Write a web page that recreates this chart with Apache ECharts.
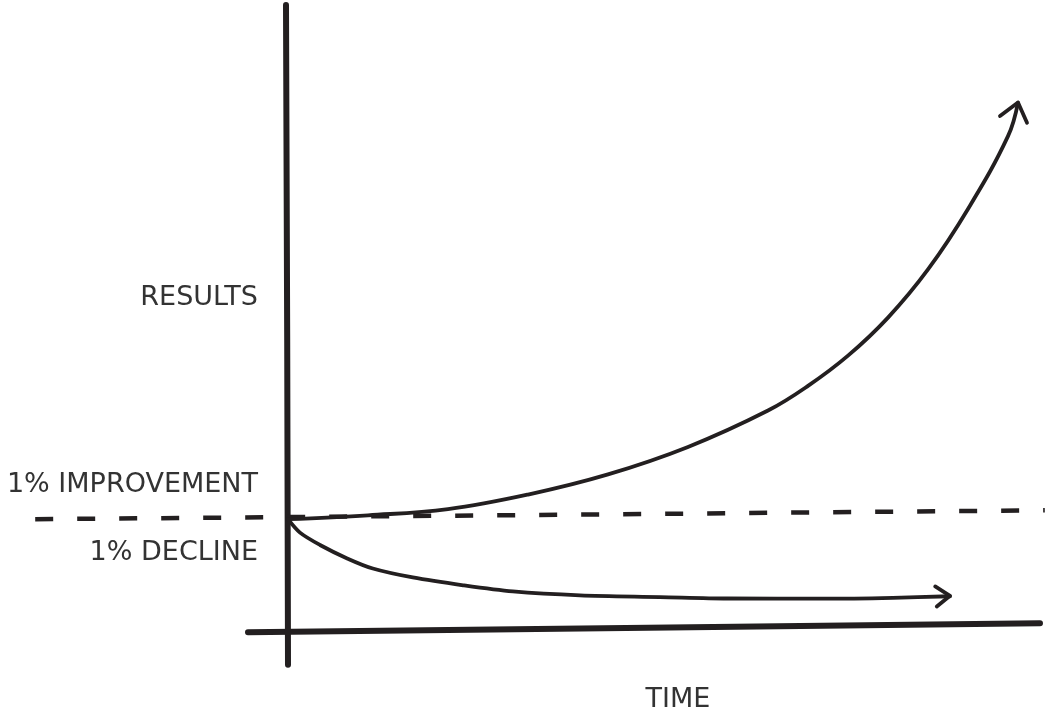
<!DOCTYPE html>
<html>
<head>
<meta charset="utf-8">
<script src="https://cdn.jsdelivr.net/npm/echarts@6/dist/echarts.min.js"></script>
<style>
html,body{margin:0;padding:0;background:#fff;}
#chart{width:1052px;height:716px;}
</style>
</head>
<body>
<div id="chart"></div>
<script>
// [time, results] pairs
const improvementCurve = [
  [0,1.0],[1,1.035],[2,1.09],[3,1.22],[4,1.40],[5,1.645],[6,1.97],
  [6.5,2.19],[7,2.46],[7.5,2.80],[8,3.23],[8.5,3.77],[9,4.42],[9.125,4.72]
];
const declineCurve = [
  [0,1.0],[0.15,0.88],[0.4,0.77],[0.74,0.65],[1.06,0.56],[1.56,0.48],[2.19,0.41],
  [2.81,0.355],[3.65,0.32],[4.65,0.305],[5.49,0.292],[6.74,0.29],[7.56,0.298],[8.275,0.312]
];
const improvementArrow = [[8.9,4.6],[9.125,4.72],[9.2375,4.54]];
const declineArrow = [[8.09,0.40],[8.275,0.316],[8.11,0.22]];
const baselineDashed = [[-3.16,1.0],[3.5,1.04],[9.46,1.08]];
const timeAxisLine = [[-0.5,-0.01],[4.5,0.03],[9.4,0.07]];
const resultsAxisLine = [[0,-0.30],[-0.01,2.6],[-0.025,5.59]];
const labelTexts = ['RESULTS','1% IMPROVEMENT','1% DECLINE','TIME'];

const ink = '#231f20';
const chart = echarts.init(document.getElementById('chart'));

function lineSeries(data, width, smooth, extra) {
  return Object.assign({
    type: 'line',
    data: data,
    smooth: smooth,
    showSymbol: false,
    symbol: 'none',
    silent: true,
    animation: false,
    lineStyle: { color: ink, width: width, cap: 'round', join: 'round' }
  }, extra || {});
}

const labelFont = '"DejaVu Sans", "Noto Sans", sans-serif';
function label(text, x, y, align) {
  return {
    type: 'text', x: x, y: y, silent: true,
    style: { text: text, fill: '#333333', font: 'normal 27px ' + labelFont,
             align: align, verticalAlign: 'middle' }
  };
}

chart.setOption({
  backgroundColor: '#ffffff',
  animation: false,
  grid: { left: 28, right: 4, top: 4, bottom: 40 },
  xAxis: { type: 'value', min: -3.25, max: 9.5, show: false },
  yAxis: { type: 'value', min: -0.4, max: 5.6, show: false },
  series: [
    lineSeries(timeAxisLine, 6, false),
    lineSeries(resultsAxisLine, 6, false),
    Object.assign(lineSeries(baselineDashed, 4.5, false), {
      lineStyle: { color: ink, width: 4.5, type: [18, 24], cap: 'butt' }
    }),
    lineSeries(improvementCurve, 3.8, 0.4),
    lineSeries(declineCurve, 3.8, 0.3),
    lineSeries(improvementArrow, 3.8, false),
    lineSeries(declineArrow, 3.8, false)
  ],
  graphic: [
    label(labelTexts[0], 258, 298, 'right'),
    label(labelTexts[1], 258, 485, 'right'),
    label(labelTexts[2], 258, 553, 'right'),
    label(labelTexts[3], 678, 700, 'center')
  ]
});
</script>
</body>
</html>
